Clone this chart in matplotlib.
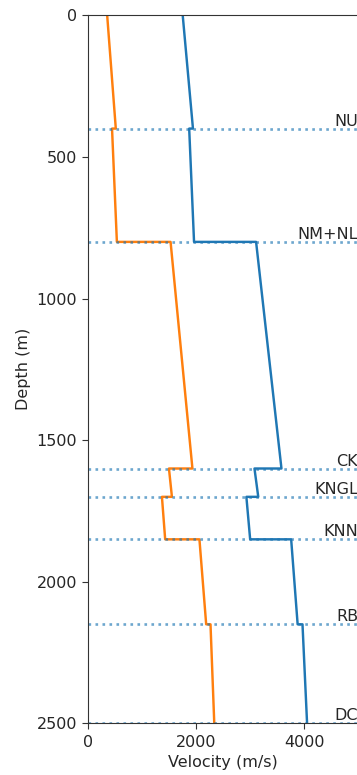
import numpy as np
import matplotlib
matplotlib.use("Agg")
import matplotlib.pyplot as plt

# Formation tops (m) and names
top_depths = [0, 400, 800, 1600, 1700, 1850, 2150]
base_depths = [400, 800, 1600, 1700, 1850, 2150, 2500]
formations = ["NU", "NM+NL", "CK", "KNGL", "KNN", "RB", "DC"]
marker_depths = [400, 800, 1600, 1700, 1850, 2150, 2500]

# P-wave velocity at the top and base of each layer (m/s)
vp_top = [1750, 1870, 3110, 3080, 2930, 3760, 3970]
vp_base = [1940, 1960, 3580, 3150, 3000, 3880, 4055]

# S-wave velocity at the top and base of each layer (m/s)
vs_top = [350, 440, 1525, 1495, 1365, 2060, 2265]
vs_base = [510, 530, 1930, 1550, 1425, 2185, 2335]


def step_profile(tops, bases, v_top, v_base):
    z, v = [], []
    for zt, zb, a, b in zip(tops, bases, v_top, v_base):
        z += [zt, zb]
        v += [a, b]
    return np.array(v), np.array(z)


ink = "#262626"
plt.rcParams.update({
    "font.size": 11.5,
    "text.color": ink,
    "axes.labelcolor": ink,
    "xtick.color": "#333333",
    "ytick.color": "#333333",
    "xtick.labelcolor": ink,
    "ytick.labelcolor": ink,
    "axes.edgecolor": "#333333",
})
fig = plt.figure(figsize=(3.57, 7.75), dpi=100)
ax = fig.add_axes([0.2473, 0.0665, 1.003 - 0.2473, 0.9803 - 0.0665])

vp, z = step_profile(top_depths, base_depths, vp_top, vp_base)
vs, _ = step_profile(top_depths, base_depths, vs_top, vs_base)
ax.plot(vp, z, color="C0", lw=1.75)
ax.plot(vs, z, color="C1", lw=1.75)

for d, name in zip(marker_depths, formations):
    ax.axhline(d, color="C0", ls=":", lw=1.9, alpha=0.65)
    ax.text(5000, d, name, ha="right", va="bottom")

ax.set_xlim(0, 5000)
ax.set_ylim(2500, 0)
ax.set_xticks([0, 2000, 4000])
ax.set_yticks([0, 500, 1000, 1500, 2000, 2500])
ax.tick_params(length=4.5)
ax.set_xlabel("Velocity (m/s)")
ax.set_ylabel("Depth (m)")

fig.savefig("out.png", dpi=100)
